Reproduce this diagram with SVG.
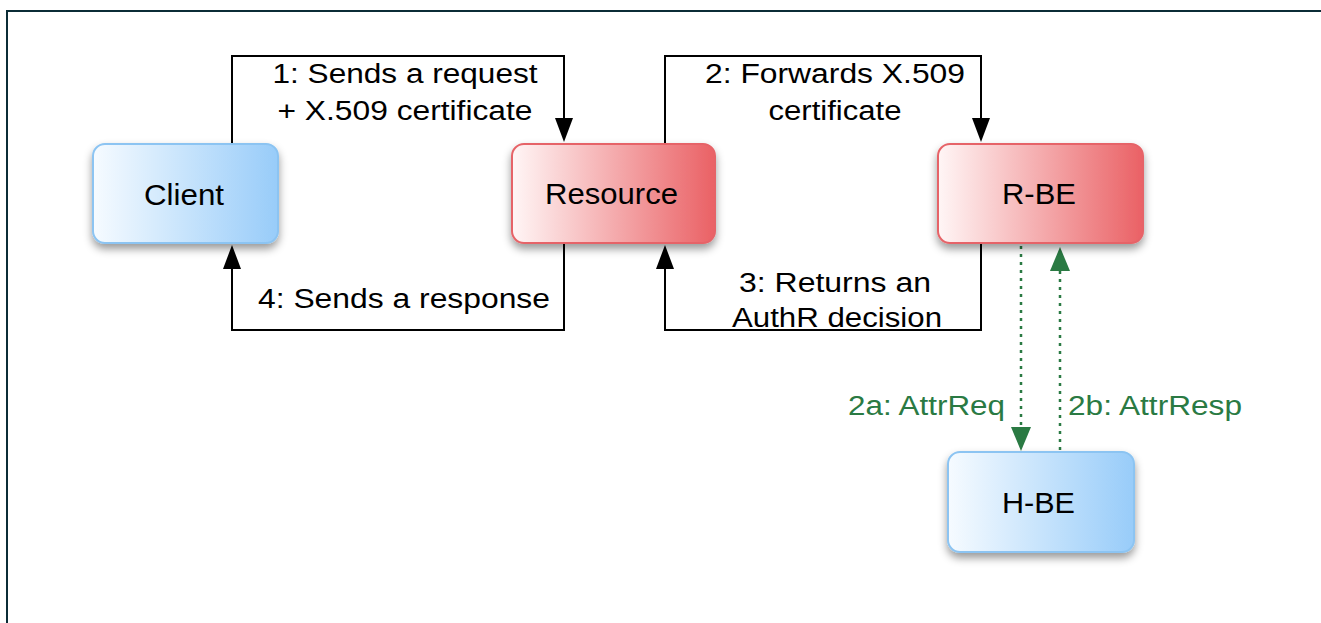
<svg xmlns="http://www.w3.org/2000/svg" width="1321" height="623" viewBox="0 0 1321 623">
  <style>
    .node-text { font-family: "Liberation Sans", Arial, sans-serif; font-size: 29px; fill: #000; text-anchor: middle; }
    .label { font-family: "Liberation Sans", Arial, sans-serif; font-size: 27px; fill: #000; text-anchor: middle; }
    .label-green { font-family: "Liberation Sans", Arial, sans-serif; font-size: 27px; fill: #2a7a43; }
    .flow { fill: none; stroke: #000; stroke-width: 2; }
    .dotted { fill: none; stroke: #2a7a43; stroke-width: 2.5; stroke-dasharray: 3 5; }
    .head { fill: #000; }
    .head-green { fill: #2a7a43; }
    .blue { fill: url(#gradBlue); stroke: #8cc4f2; stroke-width: 2; }
    .red { fill: url(#gradRed); stroke: #e66468; stroke-width: 2; }
  </style>
  <defs>
    <linearGradient id="gradBlue" x1="0" y1="0" x2="1" y2="0">
      <stop offset="0" stop-color="#f6fbff"/>
      <stop offset="1" stop-color="#98ccf9"/>
    </linearGradient>
    <linearGradient id="gradRed" x1="0" y1="0" x2="1" y2="0">
      <stop offset="0" stop-color="#fff6f6"/>
      <stop offset="1" stop-color="#ea6165"/>
    </linearGradient>
    <filter id="shadow" x="-20%" y="-20%" width="140%" height="150%">
      <feDropShadow dx="0" dy="5" stdDeviation="4" flood-color="#000" flood-opacity="0.4"/>
    </filter>
  </defs>

  <rect width="1321" height="623" fill="#fff"/>
  <!-- page frame -->
  <path d="M7,623 V11 H1321" fill="none" stroke="#0b2c36" stroke-width="2"/>

  <g id="connectors">
    <path class="flow" d="M232,144 V56 H564 V120"/>
    <path class="flow" d="M665,144 V56 H981 V120"/>
    <path class="flow" d="M981,243 V330 H665 V265"/>
    <path class="flow" d="M564,243 V330 H232 V265"/>
    <!-- arrowheads -->
    <path class="head" d="M555,118 L573,118 L564,142 Z"/>
    <path class="head" d="M972,118 L990,118 L981,142 Z"/>
    <path class="head" d="M656,269 L674,269 L665,245 Z"/>
    <path class="head" d="M223,269 L241,269 L232,245 Z"/>
    <!-- attribute exchange -->
    <path class="dotted" d="M1021,246 V428"/>
    <path class="head-green" d="M1011,427 L1031,427 L1021,451 Z"/>
    <path class="dotted" d="M1060,450 V270"/>
    <path class="head-green" d="M1050,271 L1070,271 L1060,247 Z"/>
    <text class="label" x="405" y="83" textLength="265" lengthAdjust="spacingAndGlyphs">1: Sends a request</text>
    <text class="label" x="405" y="120" textLength="255" lengthAdjust="spacingAndGlyphs">+ X.509 certificate</text>
    <text class="label" x="835" y="83" textLength="260" lengthAdjust="spacingAndGlyphs">2: Forwards X.509</text>
    <text class="label" x="835" y="120" textLength="133" lengthAdjust="spacingAndGlyphs">certificate</text>
    <text class="label" x="835" y="292" textLength="192" lengthAdjust="spacingAndGlyphs">3: Returns an</text>
    <text class="label" x="837" y="327" textLength="210" lengthAdjust="spacingAndGlyphs">AuthR decision</text>
    <text class="label" x="404" y="308" textLength="292" lengthAdjust="spacingAndGlyphs">4: Sends a response</text>
    <text class="label-green" x="848" y="415" textLength="157" lengthAdjust="spacingAndGlyphs">2a: AttrReq</text>
    <text class="label-green" x="1068" y="415" textLength="174" lengthAdjust="spacingAndGlyphs">2b: AttrResp</text>
  </g>

  <g id="client">
    <rect class="blue" x="93" y="144" width="185" height="99" rx="12" filter="url(#shadow)"/>
    <text class="node-text" x="184" y="205" textLength="80" lengthAdjust="spacingAndGlyphs">Client</text>
  </g>
  <g id="resource">
    <rect class="red" x="512" y="144" width="203" height="99" rx="12" filter="url(#shadow)"/>
    <text class="node-text" x="611.5" y="204" textLength="133" lengthAdjust="spacingAndGlyphs">Resource</text>
  </g>
  <g id="r-be">
    <rect class="red" x="938" y="144" width="205" height="99" rx="12" filter="url(#shadow)"/>
    <text class="node-text" x="1039" y="204" textLength="74" lengthAdjust="spacingAndGlyphs">R-BE</text>
  </g>
  <g id="h-be">
    <rect class="blue" x="948" y="452" width="186" height="100" rx="12" filter="url(#shadow)"/>
    <text class="node-text" x="1038.5" y="513" textLength="73" lengthAdjust="spacingAndGlyphs">H-BE</text>
  </g>
</svg>
